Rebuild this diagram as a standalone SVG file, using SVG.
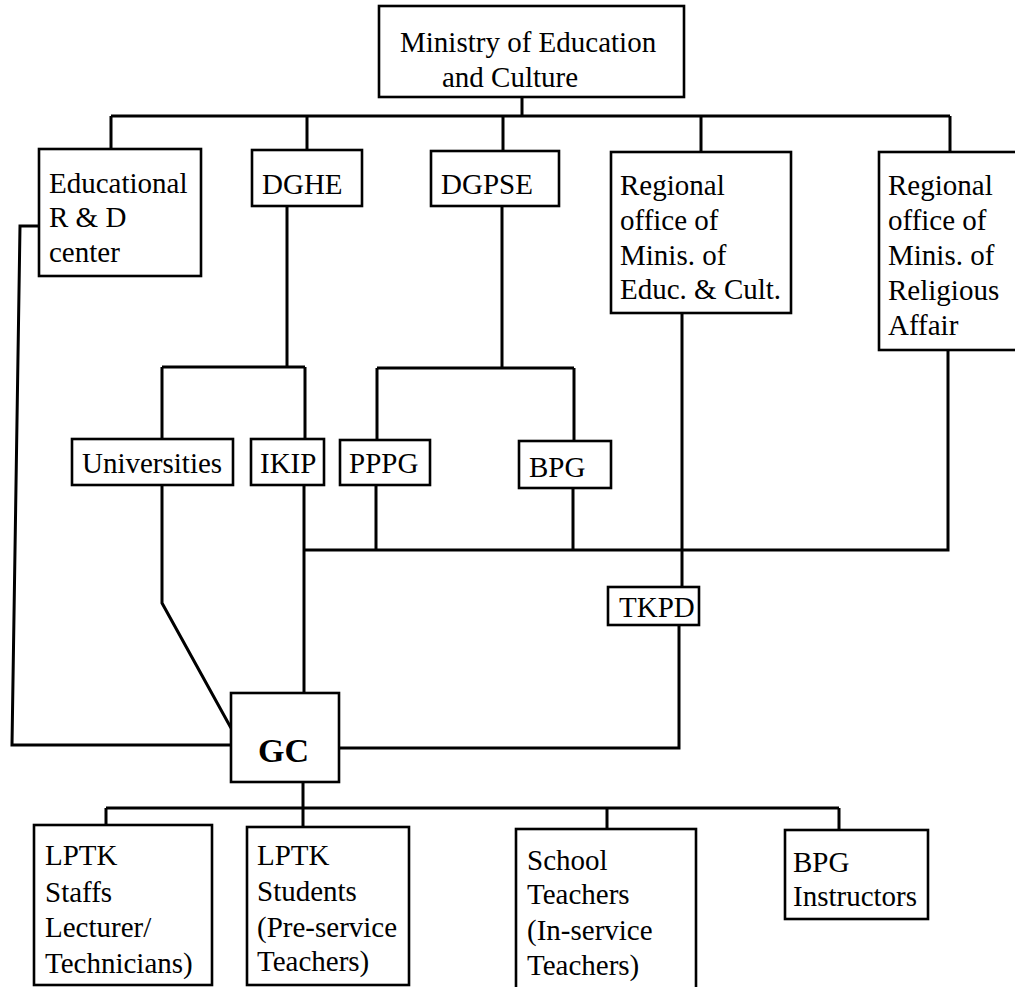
<svg xmlns="http://www.w3.org/2000/svg" width="1015" height="987" viewBox="0 0 1015 987" font-family="'Liberation Serif', 'DejaVu Serif', serif" font-size="29">
<style>
.box{fill:#fff;stroke:#000;stroke-width:2.6}
.ln{fill:none;stroke:#000;stroke-width:3;stroke-linejoin:miter}
text{font-family:'Liberation Serif','DejaVu Serif',serif;font-size:29px;fill:#000}
.gc{font-size:34px;font-weight:bold}
</style>
<rect width="1015" height="987" fill="#fff"/>
<g id="connectors">
<path class="ln" d="M522,97 V116 M111,116 H950 M111,116 V149 M307,116 V150 M503,116 V151 M701,116 V152 M950,116 V152"/>
<path class="ln" d="M39,226 H20 L12,745 H231"/>
<path class="ln" d="M287,206 V367 M162,367 H305 M162,367 V439 M305,367 V439"/>
<path class="ln" d="M502,206 V368 M377,368 H574 M377,368 V440 M574,368 V441"/>
<path class="ln" d="M162,485 V603 L231,728"/>
<path class="ln" d="M304,485 V693"/>
<path class="ln" d="M304,550 H948 V350 M376,485 V550 M573,488 V550"/>
<path class="ln" d="M682,313 V587"/>
<path class="ln" d="M339,748 H679 V625"/>
<path class="ln" d="M303,782 V808 M106,808 H839 M106,808 V825 M303,808 V827 M607,808 V829 M839,808 V830"/>
</g>
<g id="ministry"><rect class="box" x="379" y="6" width="305" height="91"/><text x="400" y="52">Ministry of Education</text><text x="442" y="87">and Culture</text></g>
<g id="edu-rd"><rect class="box" x="39" y="149" width="162" height="127"/><text x="49" y="193">Educational</text><text x="49" y="227">R &amp; D</text><text x="49" y="262">center</text></g>
<g id="dghe"><rect class="box" x="252" y="150" width="110" height="56"/><text x="262" y="194">DGHE</text></g>
<g id="dgpse"><rect class="box" x="431" y="151" width="128" height="55"/><text x="441" y="194">DGPSE</text></g>
<g id="regional-educ"><rect class="box" x="611" y="152" width="180" height="161"/><text x="620" y="195">Regional</text><text x="620" y="230">office of</text><text x="620" y="265">Minis. of</text><text x="620" y="299">Educ. &amp; Cult.</text></g>
<g id="regional-relig"><rect class="box" x="879" y="152" width="140" height="198"/><text x="888" y="195">Regional</text><text x="888" y="230">office of</text><text x="888" y="265">Minis. of</text><text x="888" y="300">Religious</text><text x="888" y="335">Affair</text></g>
<g id="universities"><rect class="box" x="72" y="439" width="161" height="46"/><text x="82" y="473">Universities</text></g>
<g id="ikip"><rect class="box" x="251" y="439" width="73" height="46"/><text x="260" y="473">IKIP</text></g>
<g id="pppg"><rect class="box" x="340" y="440" width="90" height="45"/><text x="349" y="473">PPPG</text></g>
<g id="bpg"><rect class="box" x="519" y="441" width="92" height="47"/><text x="529" y="477">BPG</text></g>
<g id="tkpd"><rect class="box" x="608" y="587" width="91" height="38"/><text x="619" y="617">TKPD</text></g>
<g id="gc"><rect class="box" x="231" y="693" width="108" height="89"/><text class="gc" x="258" y="762">GC</text></g>
<g id="lptk-staffs"><rect class="box" x="34" y="825" width="178" height="160"/><text x="45" y="865">LPTK</text><text x="45" y="902">Staffs</text><text x="45" y="937">Lecturer/</text><text x="45" y="973">Technicians)</text></g>
<g id="lptk-students"><rect class="box" x="247" y="827" width="162" height="158"/><text x="257" y="865">LPTK</text><text x="257" y="901">Students</text><text x="257" y="937">(Pre-service</text><text x="257" y="971">Teachers)</text></g>
<g id="school-teachers"><rect class="box" x="516" y="829" width="180" height="162"/><text x="527" y="870">School</text><text x="527" y="904">Teachers</text><text x="527" y="940">(In-service</text><text x="527" y="975">Teachers)</text></g>
<g id="bpg-instructors"><rect class="box" x="785" y="830" width="143" height="89"/><text x="793" y="872">BPG</text><text x="793" y="906">Instructors</text></g>
</svg>
